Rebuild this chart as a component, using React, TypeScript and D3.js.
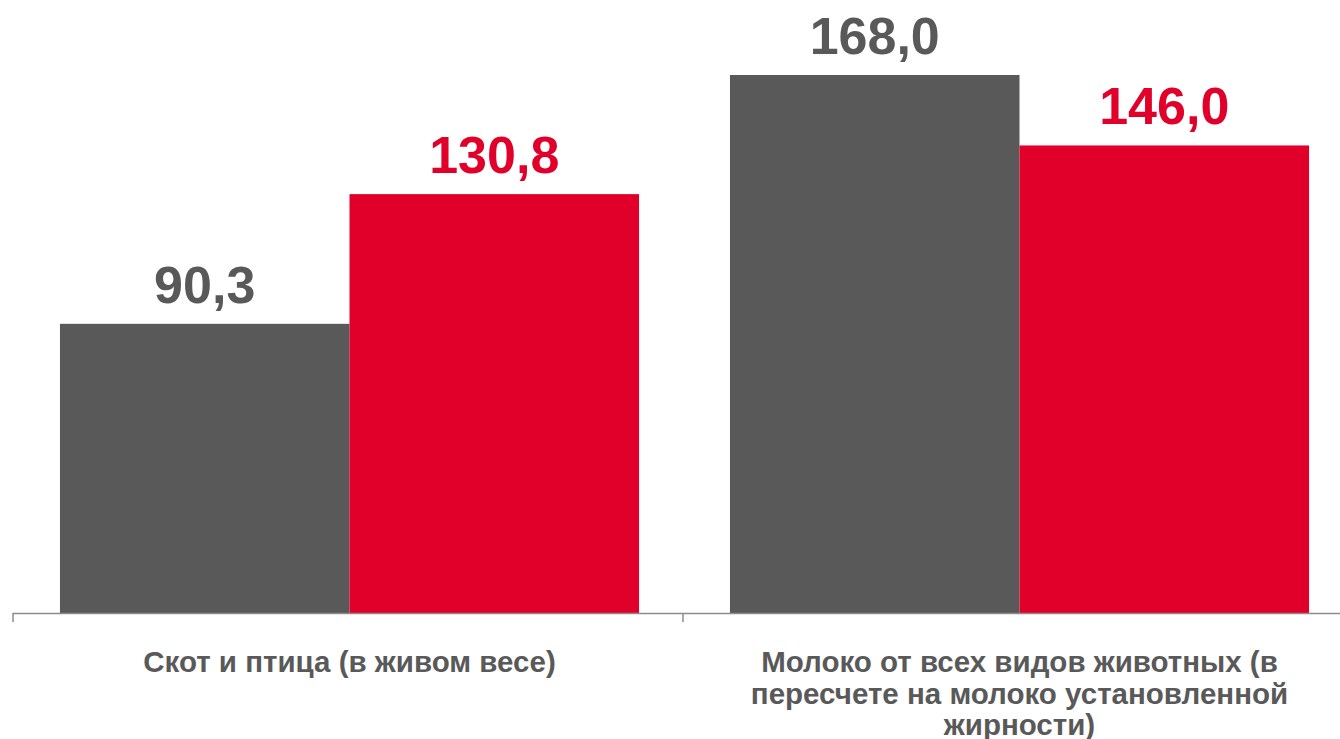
import React from "react";
import * as d3 from "d3";

const categories = ["Скот и птица (в живом весе)", "Молоко от всех видов животных (в пересчете на молоко установленной жирности)"];
const categoryLines = [["Скот и птица (в живом весе)"], ["Молоко от всех видов животных (в", "пересчете на молоко установленной", "жирности)"]];
const seriesNames = ["2019", "2020"];
const seriesA = [90.3, 168.0];
const seriesB = [130.8, 146.0];
const colors = ["#595959", "#E0002A"];

const W = 1340;
const H = 739;

export default function App() {
  const x0 = d3.scaleBand<string>().domain(categories).range([14.5, 1354.5]).paddingInner(0).paddingOuter(0);
  const x1 = d3.scaleBand<string>().domain(seriesNames).range([0, x0.bandwidth()]).paddingOuter(0.157);
  const y = d3.scaleLinear().domain([0, 168]).range([613, 75]);
  const series = [seriesA, seriesB];
  const fmt = (v: number) => v.toFixed(1).replace(".", ",");
  const font = "'Liberation Sans', Arial, sans-serif";

  return (
    <svg width={W} height={H} style={{ position: "absolute", left: 0, top: 0 }}>
      {categories.map((c, ci) =>
        seriesNames.map((s, si) => {
          const v = series[si][ci];
          const bx = (x0(c) ?? 0) + (x1(s) ?? 0);
          return (
            <g key={c + s}>
              <rect x={bx} y={y(v)} width={x1.bandwidth()} height={y(0) - y(v)} fill={colors[si]} />
              <text x={bx + x1.bandwidth() / 2} y={y(v) - 21} textAnchor="middle" fontFamily={font} fontWeight="bold" fontSize={52} fill={colors[si]}>
                {fmt(v)}
              </text>
            </g>
          );
        })
      )}
      <line x1={13} x2={W} y1={613.5} y2={613.5} stroke="#8C8C8C" strokeWidth={1.5} />
      {[x0(categories[0])!, x0(categories[1])!].map((t, i) => (
        <line key={i} x1={Math.round(t - 1.5)} x2={Math.round(t - 1.5)} y1={613} y2={622} stroke="#8C8C8C" strokeWidth={1.5} />
      ))}
      {categories.map((c, ci) => (
        <text key={c} textAnchor="middle" fontFamily={font} fontWeight="bold" fontSize={29.5} fill="#595959">
          {categoryLines[ci].map((ln, li) => (
            <tspan key={li} x={(x0(c) ?? 0) + x0.bandwidth() / 2} y={672 + li * 31.5}>
              {ln}
            </tspan>
          ))}
        </text>
      ))}
    </svg>
  );
}
